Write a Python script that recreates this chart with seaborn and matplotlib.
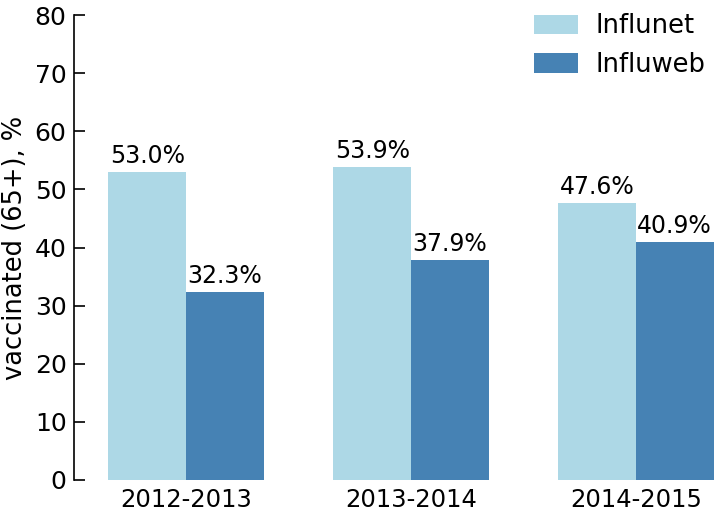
import matplotlib.pyplot as plt
import pandas as pd
import seaborn as sns

seasons = ['2012-2013', '2013-2014', '2014-2015']
influnet = [53.0, 53.9, 47.6]
influweb = [32.3, 37.9, 40.9]

df = pd.DataFrame({
    'season': seasons * 2,
    'source': ['Influnet'] * 3 + ['Influweb'] * 3,
    'value': influnet + influweb,
})

sns.set_style('white')
plt.rcParams['font.family'] = ['DejaVu Sans']
plt.rcParams['text.color'] = 'black'
plt.rcParams['axes.labelcolor'] = 'black'
plt.rcParams['xtick.color'] = 'black'
plt.rcParams['ytick.color'] = 'black'

fig = plt.figure(figsize=(7.16, 5.11), dpi=100)
ax = fig.add_axes([0.1027, 0.0607, 0.8973, 0.9099])

sns.barplot(data=df, x='season', y='value', hue='source',
            palette=['lightblue', 'steelblue'], saturation=1,
            width=0.69, linewidth=0, ax=ax)

for cont in ax.containers:
    ax.bar_label(cont, fmt='%.1f%%', padding=3, fontsize=17, color='black')

ax.set_ylim(0, 80)
ax.set_xlim(-0.5, 2.356)
ax.set_yticks(range(0, 81, 10))
ax.set_xlabel('')
ax.set_ylabel('vaccinated (65+), %', fontsize=18.5)
ax.yaxis.set_label_coords(-0.071, 0.5)
ax.tick_params(axis='y', labelsize=18, left=True, length=8, width=1.2,
               direction='in', pad=5)
ax.tick_params(axis='x', labelsize=17.5, bottom=False, length=0, pad=6)

sns.despine(ax=ax, bottom=True)
ax.spines['left'].set_linewidth(1.2)
ax.spines['left'].set_color('black')

ax.legend(loc='upper right', frameon=False, fontsize=18.5, handlelength=1.7,
          handleheight=0.78, handletextpad=0.7, labelspacing=0.5,
          borderaxespad=0, bbox_to_anchor=(1.0, 1.026))

fig.savefig('out.png', dpi=100)
